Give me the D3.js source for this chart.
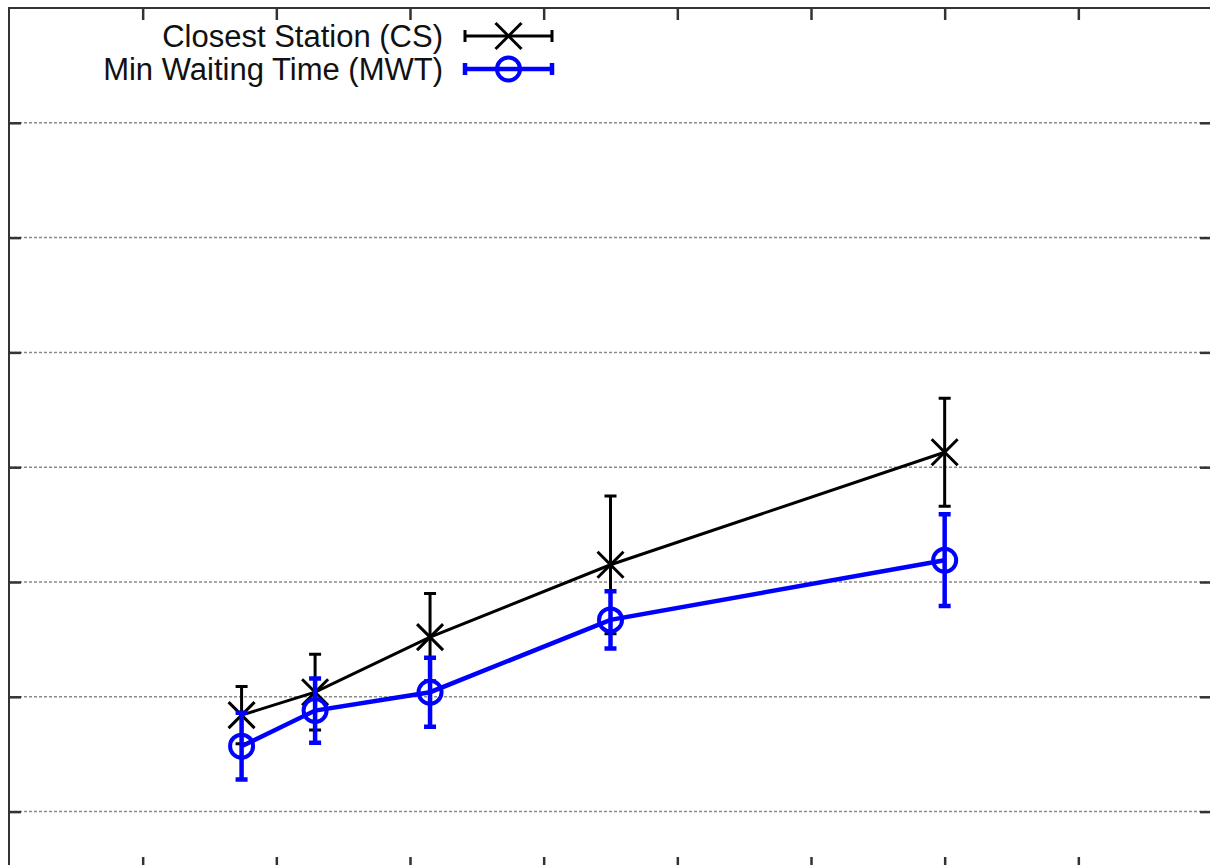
<!DOCTYPE html>
<html>
<head>
<meta charset="utf-8">
<script src="https://cdn.jsdelivr.net/npm/d3@7"></script>
<style>
  body { margin: 0; background: #fff; }
  svg { display: block; }
</style>
</head>
<body>
<svg id="chart"></svg>
<script>
// values (axis labels are cropped away in the reference)
var xValues  = [1.74, 2.29, 3.15, 4.5, 7.0];
var csMean   = [0.84, 1.04, 1.52, 2.15, 3.13];
var csErr    = [0.25, 0.33, 0.38, 0.60, 0.47];
var mwtMean  = [0.57, 0.88, 1.04, 1.67, 2.19];
var mwtErr   = [0.29, 0.28, 0.30, 0.25, 0.40];
var xTicks   = [1, 2, 3, 4, 5, 6, 7, 8];
var yTicks   = [0, 1, 2, 3, 4, 5, 6];
var seriesNames = ['Closest Station (CS)', 'Min Waiting Time (MWT)'];

var width = 1210, height = 865;
var plotLeft = 9, plotRight = 1212, plotTop = 8, plotBottom = 869;
var tickLen = 12;

var svg = d3.select('#chart').attr('width', width).attr('height', height);

var x = d3.scaleLinear().domain([0, 9]).range([plotLeft, plotRight]);
var y = d3.scaleLinear().domain([-0.5, 7]).range([plotBottom, plotTop]);

// dotted horizontal grid
svg.append('g').attr('class', 'grid')
    .selectAll('line').data(yTicks).enter().append('line')
        .attr('x1', plotLeft).attr('x2', plotRight)
        .attr('y1', function(d){ return y(d); })
        .attr('y2', function(d){ return y(d); })
        .attr('stroke', '#8a8a8a')
        .attr('stroke-width', 1.5)
        .attr('stroke-dasharray', '3,2');

// inward ticks on all four sides
function styleAxis(g) {
    g.select('.domain').remove();
    g.selectAll('.tick line').attr('stroke', '#333').attr('stroke-width', 2.5);
    g.selectAll('.tick text').remove();
}
svg.append('g').attr('transform', 'translate(0,' + plotTop + ')')
    .call(d3.axisTop(x).tickValues(xTicks).tickSize(-tickLen).tickFormat('')).call(styleAxis);
svg.append('g').attr('transform', 'translate(0,' + plotBottom + ')')
    .call(d3.axisBottom(x).tickValues(xTicks).tickSize(-tickLen).tickFormat('')).call(styleAxis);
svg.append('g').attr('transform', 'translate(' + plotLeft + ',0)')
    .call(d3.axisLeft(y).tickValues(yTicks).tickSize(-tickLen).tickFormat('')).call(styleAxis);
svg.append('g').attr('transform', 'translate(' + plotRight + ',0)')
    .call(d3.axisRight(y).tickValues(yTicks).tickSize(-tickLen).tickFormat('')).call(styleAxis);

// border
svg.append('rect')
    .attr('x', plotLeft).attr('y', plotTop)
    .attr('width', plotRight - plotLeft).attr('height', plotBottom - plotTop)
    .attr('fill', 'none')
    .attr('stroke', '#333')
    .attr('stroke-width', 2);

var series = [
    { name: seriesNames[0], mean: csMean, err: csErr, color: '#000000', lw: 3, barW: 3, marker: 'cross' },
    { name: seriesNames[1], mean: mwtMean, err: mwtErr, color: '#0000ff', lw: 4.5, barW: 4.5, marker: 'circle' }
];

var capHalf = 6;

function drawMarker(g, type, cx, cy, color) {
    if (type === 'cross') {
        var s = 13;
        g.append('path')
            .attr('d', 'M' + (cx - s) + ',' + (cy - s) + 'L' + (cx + s) + ',' + (cy + s) +
                       'M' + (cx - s) + ',' + (cy + s) + 'L' + (cx + s) + ',' + (cy - s))
            .attr('stroke', color).attr('stroke-width', 3).attr('fill', 'none');
    } else {
        g.append('circle')
            .attr('cx', cx).attr('cy', cy).attr('r', 11.5)
            .attr('stroke', color).attr('stroke-width', 4).attr('fill', 'none');
    }
}

var line = d3.line()
    .x(function(d){ return x(d.x); })
    .y(function(d){ return y(d.y); });

series.forEach(function(s) {
    var g = svg.append('g').attr('class', 'series');
    var pts = xValues.map(function(v, i){ return { x: v, y: s.mean[i], e: s.err[i] }; });

    // error bars
    pts.forEach(function(p) {
        var px = x(p.x), y1 = y(p.y + p.e), y2 = y(p.y - p.e);
        g.append('path')
            .attr('d', 'M' + px + ',' + y1 + 'L' + px + ',' + y2 +
                       'M' + (px - capHalf) + ',' + y1 + 'L' + (px + capHalf) + ',' + y1 +
                       'M' + (px - capHalf) + ',' + y2 + 'L' + (px + capHalf) + ',' + y2)
            .attr('stroke', s.color).attr('stroke-width', s.barW).attr('fill', 'none');
    });

    g.append('path').datum(pts)
        .attr('d', line)
        .attr('stroke', s.color).attr('stroke-width', s.lw).attr('fill', 'none');

    pts.forEach(function(p) { drawMarker(g, s.marker, x(p.x), y(p.y), s.color); });
});

// legend (top left, text right-aligned, gnuplot style samples)
var legend = svg.append('g').attr('class', 'legend');
series.forEach(function(s, i) {
    var cy = 36 + i * 33;
    legend.append('text')
        .attr('x', 443).attr('y', cy + 11)
        .attr('text-anchor', 'end')
        .style('font-family', '"Liberation Sans", Arial, sans-serif')
        .style('font-size', '31px')
        .style('fill', '#111')
        .text(s.name);
    var x1 = 465, x2 = 552;
    legend.append('path')
        .attr('d', 'M' + x1 + ',' + cy + 'L' + x2 + ',' + cy +
                   'M' + x1 + ',' + (cy - capHalf) + 'L' + x1 + ',' + (cy + capHalf) +
                   'M' + x2 + ',' + (cy - capHalf) + 'L' + x2 + ',' + (cy + capHalf))
        .attr('stroke', s.color).attr('stroke-width', s.barW).attr('fill', 'none');
    drawMarker(legend, s.marker, (x1 + x2) / 2, cy, s.color);
});
</script>
</body>
</html>
